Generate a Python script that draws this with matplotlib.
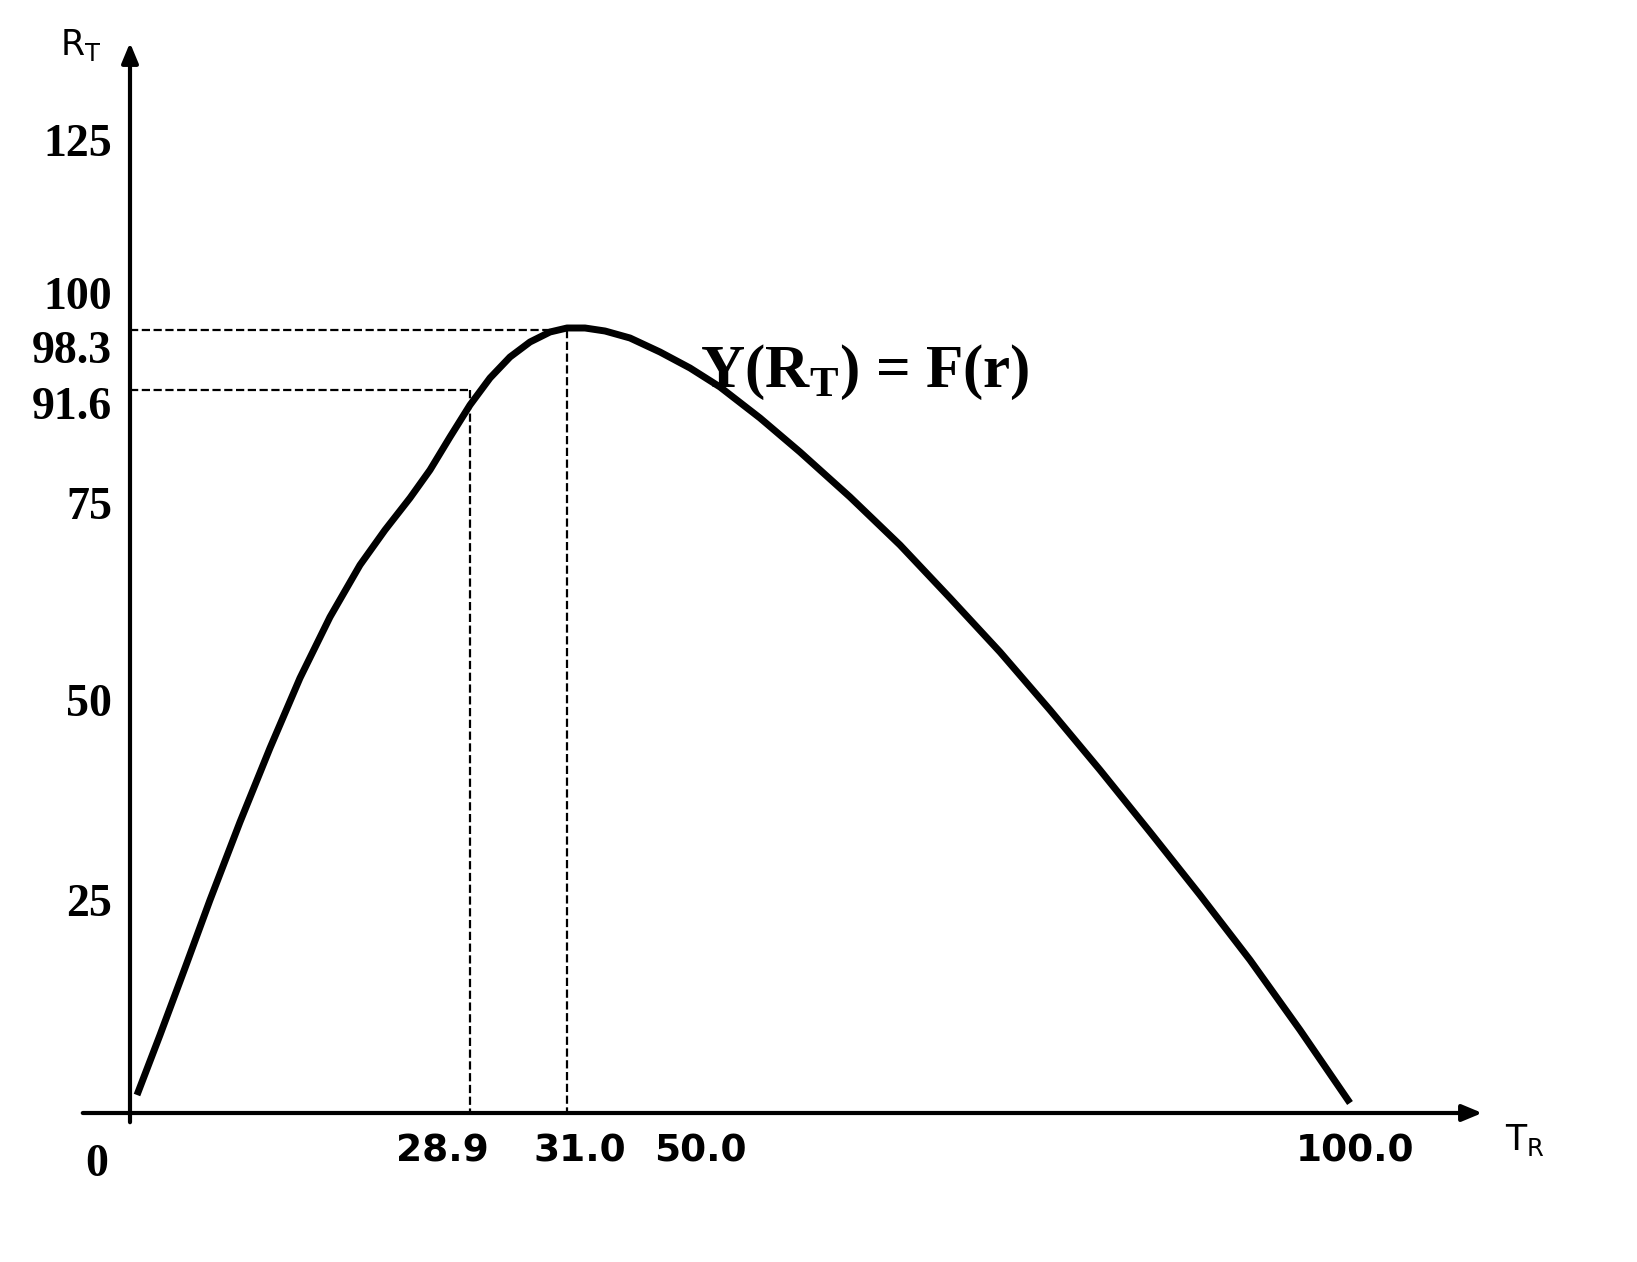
import numpy as np
import matplotlib.pyplot as plt

# schematic drawn in picture units (x right, y down), origin at (130, 1113)
curve_x = [137, 160, 185, 210, 240, 270, 300, 330, 360, 385, 410, 430, 450, 470, 490, 510, 530,
           550, 567, 585, 605, 630, 660, 690, 720, 760, 800, 850, 900, 950, 1000, 1050, 1100,
           1150, 1200, 1250, 1300, 1350]
curve_y = [1095, 1035, 968, 900, 822, 748, 678, 617, 565, 530, 498, 470, 437, 405, 378, 357, 342,
           332, 328, 328, 331, 338, 352, 368, 387, 418, 452, 497, 545, 598, 652, 710, 770,
           832, 895, 960, 1030, 1103]

ytick_labels = ["125", "100", "98.3", "91.6", "75", "50", "25"]
ytick_pos = [145, 298, 352, 408, 508, 705, 905]
xtick_labels = ["28.9", "31.0", "50.0", "100.0"]
xtick_pos = [442, 580, 700, 1355]

peak = (567, 330)
knee = (470, 390)
ox, oy = 130, 1113

fig = plt.figure(figsize=(16.37, 12.62), dpi=100)
ax = fig.add_axes([0, 0, 1, 1])
ax.set_xlim(0, 1637)
ax.set_ylim(1262, 0)
ax.axis("off")

# axes with arrows
ax.annotate("", xy=(1485, oy), xytext=(80, oy),
            arrowprops=dict(arrowstyle="-|>,head_length=1.2,head_width=0.5", lw=3, color="black"))
ax.annotate("", xy=(ox, 40), xytext=(ox, 1125),
            arrowprops=dict(arrowstyle="-|>,head_length=1.2,head_width=0.5", lw=3, color="black"))

ax.plot(curve_x, curve_y, color="black", lw=5, solid_capstyle="butt", solid_joinstyle="round")

for px, py in [peak, knee]:
    ax.plot([ox, px], [py, py], "k--", lw=1.6)
    ax.plot([px, px], [py, oy], "k--", lw=1.6)

for lab, p in zip(ytick_labels, ytick_pos):
    ax.text(112, p, lab, ha="right", va="center", fontsize=33,
            fontfamily="Liberation Serif", fontweight="bold")
for lab, p in zip(xtick_labels, xtick_pos):
    ax.text(p, 1152, lab, ha="center", va="center", fontsize=27,
            fontfamily="DejaVu Sans", fontweight="bold")
ax.text(97, 1165, "0", ha="center", va="center", fontsize=33,
        fontfamily="Liberation Serif", fontweight="bold")

ax.text(60, 45, r"R$_\mathregular{T}$", ha="left", va="center", fontsize=25, fontfamily="DejaVu Sans")
ax.text(1505, 1140, r"T$_\mathregular{R}$", ha="left", va="center", fontsize=25, fontfamily="DejaVu Sans")
ax.text(700, 372, r"Y(R$_\mathregular{T}$) = F(r)", ha="left", va="center", fontsize=44,
        fontfamily="Liberation Serif", fontweight="bold")

fig.savefig("out.png", dpi=100)
